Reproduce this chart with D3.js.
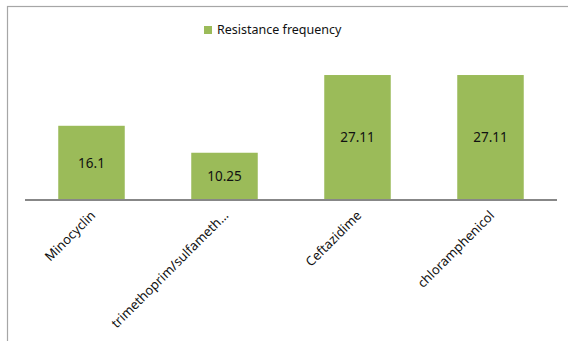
<!DOCTYPE html>
<html>
<head>
<meta charset="utf-8">
<script src="https://cdn.jsdelivr.net/npm/d3@7"></script>
<style>
  body { margin: 0; background: white; }
  svg { display: block; font-family: "Noto Sans", "Open Sans", sans-serif; }
</style>
</head>
<body>
<div id="vizContainer"></div>
<script>
let w = 568;
let h = 341;

// data
let categories = ["Minocyclin", "trimethoprim/sulfameth\u2026", "Ceftazidime", "chloramphenicol"];
let values = [16.1, 10.25, 27.11, 27.11];
let seriesName = "Resistance frequency";
let yDomain = [0, 30];

let barColor = "#9bbb59";

let viz = d3.select("#vizContainer").append("svg")
	.attr("width", w)
	.attr("height", h)
	;

// chart frame (cut by the window on right and bottom)
viz.append("rect")
	.attr("x", 7.5)
	.attr("y", 6.5)
	.attr("width", 700)
	.attr("height", 500)
	.attr("fill", "none")
	.attr("stroke", "#a6a6a6")
	.attr("stroke-width", 1.2)
	;

let plotLeft = 25;
let plotRight = 557;
let plotBottom = 200;
let plotTop = 61.7;

let xScale = d3.scaleBand().domain(categories).range([plotLeft, plotRight]).paddingInner(0.5).paddingOuter(0.25);
let yScale = d3.scaleLinear().domain(yDomain).range([plotBottom, plotTop]);

let graphGroup = viz.append("g").attr("class", "graphGroup");

graphGroup.selectAll(".bar").data(values).enter()
	.append("rect")
	.attr("class", "bar")
	.attr("x", function (d, i) { return xScale(categories[i]); })
	.attr("y", function (d) { return yScale(d); })
	.attr("width", xScale.bandwidth())
	.attr("height", function (d) { return yScale(0) - yScale(d); })
	.attr("fill", barColor)
	;

// value labels centred in each bar
graphGroup.selectAll(".valueLabel").data(values).enter()
	.append("text")
	.attr("class", "valueLabel")
	.attr("x", function (d, i) { return xScale(categories[i]) + xScale.bandwidth() / 2; })
	.attr("y", function (d) { return (yScale(d) + yScale(0)) / 2; })
	.attr("dy", "0.35em")
	.attr("text-anchor", "middle")
	.attr("font-size", 13.5)
	.attr("fill", "#111")
	.text(function (d) { return d; })
	;

// category axis line
viz.append("line")
	.attr("x1", plotLeft)
	.attr("x2", plotRight)
	.attr("y1", yScale(0))
	.attr("y2", yScale(0))
	.attr("stroke", "#878787")
	.attr("stroke-width", 2)
	;

// rotated category labels
viz.selectAll(".catLabel").data(categories).enter()
	.append("text")
	.attr("class", "catLabel")
	.attr("transform", function (d) {
		let x = xScale(d) + xScale.bandwidth() / 2 + 1.5;
		return "translate(" + x + "," + (yScale(0) + 13) + ") rotate(-45)";
	})
	.attr("text-anchor", "end")
	.attr("dy", "0.35em")
	.attr("font-size", 13)
	.attr("fill", "#111")
	.text(function (d) { return d; })
	;

// legend
let legend = viz.append("g").attr("transform", "translate(204,26)");
legend.append("rect")
	.attr("width", 8)
	.attr("height", 8)
	.attr("fill", barColor)
	;
legend.append("text")
	.attr("x", 13)
	.attr("y", 4)
	.attr("dy", "0.35em")
	.attr("font-size", 12.5)
	.attr("fill", "#111")
	.text(seriesName)
	;
</script>
</body>
</html>
